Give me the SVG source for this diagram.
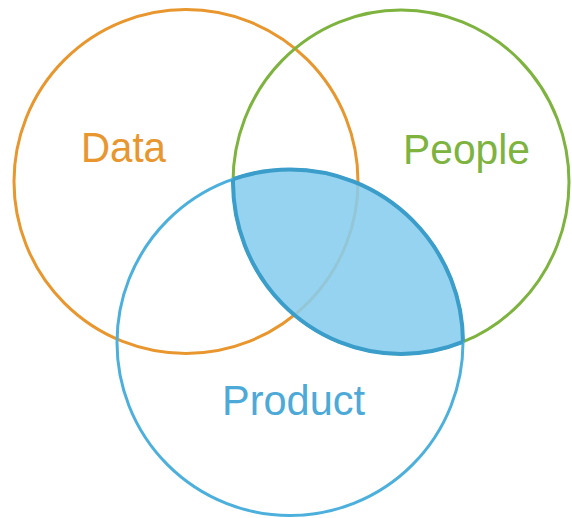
<svg xmlns="http://www.w3.org/2000/svg" width="572" height="518" viewBox="0 0 572 518">
  <style>
    .ring { fill: none; stroke-width: 3; }
    .label { font-family: "Liberation Sans", Arial, sans-serif; font-size: 42px; }
  </style>
  <defs>
    <clipPath id="clipPeople">
      <ellipse cx="401" cy="182" rx="168" ry="172"/>
    </clipPath>
    <clipPath id="clipProduct">
      <circle cx="290" cy="342.5" r="173"/>
    </clipPath>
  </defs>
  <rect width="572" height="518" fill="#ffffff"/>

  <g id="data">
    <circle class="ring" cx="186" cy="181.5" r="172" stroke="#E8962E"/>
    <text class="label" x="81" y="162" fill="#E8962E" textLength="85" lengthAdjust="spacingAndGlyphs">Data</text>
  </g>

  <g id="people">
    <ellipse class="ring" cx="401" cy="182" rx="168" ry="172" stroke="#7DB33E"/>
    <text class="label" x="403" y="164" fill="#7DB33E" textLength="127" lengthAdjust="spacingAndGlyphs">People</text>
  </g>

  <g id="product">
    <circle class="ring" cx="290" cy="342.5" r="173" stroke="#4DB0DC"/>
    <text class="label" x="222" y="415" fill="#4DAAD8" textLength="143" lengthAdjust="spacingAndGlyphs">Product</text>
  </g>

  <g id="overlap">
    <circle cx="290" cy="342.5" r="173" fill="#86CDEE" fill-opacity="0.88" clip-path="url(#clipPeople)"/>
    <circle cx="290" cy="342.5" r="173" fill="none" stroke="#3A9DCA" stroke-width="4" clip-path="url(#clipPeople)"/>
    <ellipse cx="401" cy="182" rx="168" ry="172" fill="none" stroke="#3A9DCA" stroke-width="4" clip-path="url(#clipProduct)"/>
  </g>
</svg>
